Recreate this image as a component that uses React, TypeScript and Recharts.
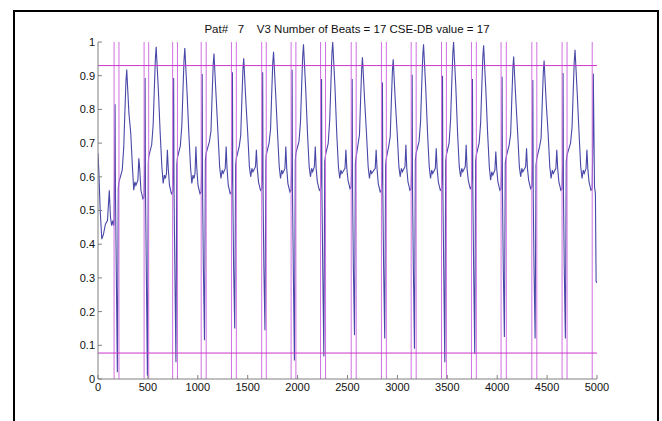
import React from 'react';
import { LineChart, Line, XAxis, YAxis, ReferenceLine } from 'recharts';

// ---- values ----
const xTicks = [0, 500, 1000, 1500, 2000, 2500, 3000, 3500, 4000, 4500, 5000];
const yTicks = [0, 0.1, 0.2, 0.3, 0.4, 0.5, 0.6, 0.7, 0.8, 0.9, 1];
const yTickLabels = ['0', '0.1', '0.2', '0.3', '0.4', '0.5', '0.6', '0.7', '0.8', '0.9', '1'];

// detected beat window lines (sample index)
const beatStart = [161, 462, 748, 1034, 1337, 1640, 1935, 2230, 2537, 2840, 3138, 3442, 3742, 4039, 4347, 4650, 4952];
const beatEnd = [210, 508, 796, 1084, 1386, 1686, 1983, 2280, 2587, 2889, 3188, 3491, 3791, 4091, 4397, 4700];
// thresholds
const upperThreshold = 0.93;
const lowerThreshold = 0.077;

// per-beat readings
const rPeak = [0.815, 0.893, 0.893, 0.905, 0.91, 0.91, 0.918, 0.89, 0.89, 0.88, 0.903, 0.9, 0.89, 0.897, 0.887, 0.908, 0.906];
const sMin = [0.02, 0.01, 0.05, 0.115, 0.15, 0.145, 0.055, 0.067, 0.13, 0.12, 0.09, 0.05, 0.075, 0.125, 0.12, 0.12];
const afterS = [0.585, 0.66, 0.657, 0.67, 0.655, 0.665, 0.67, 0.665, 0.66, 0.655, 0.67, 0.665, 0.665, 0.66, 0.655, 0.665];
const tPos = [288, 583, 870, 1162, 1460, 1759, 2059, 2352, 2650, 2958, 3262, 3563, 3864, 4165, 4470, 4780];
const tPeak = [0.918, 0.986, 0.982, 0.966, 0.952, 0.971, 0.993, 1.0, 0.955, 0.949, 0.993, 1.0, 0.99, 0.957, 0.945, 0.977];
const trough = [0.56, 0.58, 0.58, 0.595, 0.6, 0.595, 0.6, 0.595, 0.595, 0.6, 0.595, 0.6, 0.59, 0.6, 0.595, 0.595];
const pPeak = [0.655, 0.68, 0.69, 0.69, 0.68, 0.69, 0.69, 0.68, 0.68, 0.695, 0.685, 0.695, 0.675, 0.685, 0.68, 0.68];
const dip = [0.535, 0.55, 0.55, 0.55, 0.56, 0.555, 0.56, 0.565, 0.555, 0.56, 0.56, 0.565, 0.56, 0.565, 0.56, 0.56];

const leadIn: [number, number][] = [
  [0, 0.67], [8, 0.62], [22, 0.5], [38, 0.415], [55, 0.43], [75, 0.46], [95, 0.47],
  [113, 0.56], [125, 0.48], [137, 0.455], [148, 0.47], [157, 0.455],
];
const tail: [number, number][] = [
  [4958, 0.7], [4963, 0.906], [4975, 0.57], [4984, 0.55], [4991, 0.29], [5000, 0.285],
];

// ---- build the table for the library ----
type Pt = { t: number; v: number };
const buildData = (): Pt[] => {
  const out: Pt[] = [];
  const push = (t: number, v: number) => out.push({ t, v });
  leadIn.forEach(([t, v]) => push(t, v));
  for (let i = 0; i < beatEnd.length; i++) {
    const a = beatStart[i];
    const b = beatEnd[i];
    const t = tPos[i];
    const tv = tPeak[i];
    const n = beatStart[i + 1];
    const pre = i === 0 ? 0.46 : dip[i - 1];
    push(a, pre + 0.005);
    push(a + 6, 0.64);
    push(a + 10, rPeak[i]);
    push(a + 14, 0.55);
    push(a + 22, 0.33);
    push(a + 33, sMin[i]);
    push(a + 42, afterS[i] - 0.02);
    push(b, afterS[i]);
    push(t - 45, afterS[i] + 0.035);
    push(t - 30, tv - 0.23);
    push(t - 18, tv - 0.12);
    push(t - 8, tv - 0.035);
    push(t, tv);
    push(t + 10, tv - 0.06);
    push(t + 22, tv - 0.13);
    push(t + 40, 0.73);
    push(t + 57, 0.63);
    push(t + 70, trough[i]);
    push(t + 82, trough[i] + 0.025);
    push(t + 92, trough[i] + 0.015);
    push(n - 62, trough[i] + 0.03);
    push(n - 53, pPeak[i]);
    push(n - 44, 0.625);
    push(n - 32, dip[i] + 0.025);
    push(n - 12, dip[i]);
  }
  push(beatStart[beatStart.length - 1], dip[dip.length - 1] + 0.005);
  tail.forEach(([t, v]) => push(t, v));
  return out;
};
const data = buildData();

const FONT = '"Liberation Sans", Arial, Helvetica, sans-serif';
const AXIS = '#808080';

const YTick = (props: any) => {
  const { x, y, index } = props;
  return (
    <g>
      <line x1={x + 3} x2={x + 7} y1={y} y2={y} stroke={AXIS} strokeWidth={1} />
      <text x={x} y={y} dy="0.36em" textAnchor="end" fontSize={11} fill="#111" fontFamily={FONT}>
        {yTickLabels[index]}
      </text>
    </g>
  );
};

const XTick = (props: any) => {
  const { x, y, payload } = props;
  return (
    <g>
      <line x1={x} x2={x} y1={y - 4} y2={y - 8} stroke={AXIS} strokeWidth={1} />
      <text x={x} y={y} dy="0.71em" textAnchor="middle" fontSize={11} fill="#111" fontFamily={FONT}>
        {String(payload.value)}
      </text>
    </g>
  );
};

export default function App() {
  const vLines = [...beatStart, ...beatEnd];
  return (
    <div style={{ position: 'absolute', left: 0, top: 0, width: 662, height: 421, background: '#fff', overflow: 'hidden' }}>
      <div
        style={{
          position: 'absolute', left: 13, top: 10, width: 646, height: 440,
          border: '2px solid #000', boxSizing: 'border-box',
        }}
      />
      <div
        style={{
          position: 'absolute', left: 147, top: 23, width: 400, textAlign: 'center',
          fontFamily: FONT, fontSize: 11.5, lineHeight: '13px', color: '#111', whiteSpace: 'pre',
        }}
      >
        {'Pat#   7    V3 Number of Beats = 17 CSE-DB value = 17'}
      </div>
      <div style={{ position: 'absolute', left: 0, top: 0 }}>
        <LineChart width={662} height={421} data={data} margin={{ top: 42, right: 65, bottom: 12, left: 48 }}>
          <XAxis
            dataKey="t" type="number" domain={[0, 5000]} ticks={xTicks} interval={0}
            height={30} tickSize={0} tickMargin={4} tickLine={false}
            axisLine={{ stroke: AXIS }} tick={<XTick />} allowDataOverflow
          />
          <YAxis
            type="number" domain={[0, 1]} ticks={yTicks} interval={0}
            width={50} tickSize={0} tickMargin={3} tickLine={false}
            axisLine={{ stroke: AXIS }} tick={<YTick />} allowDataOverflow
          />
          <Line
            dataKey="v" type="linear" stroke="#4848a8" strokeWidth={1.1}
            dot={false} activeDot={false} isAnimationActive={false}
          />
          {vLines.map((x, i) => (
            <ReferenceLine key={'v' + i} x={x} stroke="#d070e0" strokeWidth={1} ifOverflow="visible" />
          ))}
          <ReferenceLine y={upperThreshold} stroke="#cc33cc" strokeWidth={1} />
          <ReferenceLine y={lowerThreshold} stroke="#cc33cc" strokeWidth={1} />
        </LineChart>
      </div>
    </div>
  );
}
